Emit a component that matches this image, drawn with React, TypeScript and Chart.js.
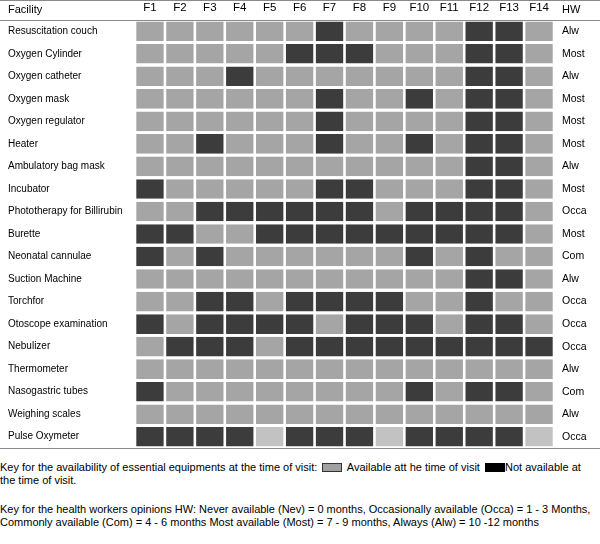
import React, { useEffect, useRef } from "react";
import { Chart, registerables } from "chart.js";

Chart.register(...registerables);

const facilities = [
  "Resuscitation couch",
  "Oxygen Cylinder",
  "Oxygen catheter",
  "Oxygen mask",
  "Oxygen regulator",
  "Heater",
  "Ambulatory bag mask",
  "Incubator",
  "Phototherapy for Billirubin",
  "Burette",
  "Neonatal cannulae",
  "Suction Machine",
  "Torchfor",
  "Otoscope examination",
  "Nebulizer",
  "Thermometer",
  "Nasogastric tubes",
  "Weighing scales",
  "Pulse Oxymeter",
];

const columns = ["F1", "F2", "F3", "F4", "F5", "F6", "F7", "F8", "F9", "F10", "F11", "F12", "F13", "F14"];

const hwOpinion = [
  "Alw", "Most", "Alw", "Most", "Most", "Most", "Alw", "Most", "Occa", "Most",
  "Com", "Alw", "Occa", "Occa", "Occa", "Alw", "Com", "Alw", "Occa",
];

// A = available, N = not available, U = no record
const availability = [
  "AAAAAANAAAANNA",
  "AAAAANNNAAANNA",
  "AAANAAAAAAANNA",
  "AAAAAANAANANNA",
  "AAAAAANAAAANNA",
  "AANAAANAANANNA",
  "AAAAAAAAAAANNA",
  "NAAAAANNAAANNA",
  "AANNNNNNANNNNA",
  "NNAANNNNNNNNNA",
  "NANAAAAAANANAA",
  "AAAAAAAAAAANNA",
  "AANNANNNNAANAA",
  "NANNNNANNNANNA",
  "ANNNANNNNNNNNN",
  "AAAAAAAAAAAAAA",
  "NAAAAAAAANANNA",
  "AAAAAAAAAAAAAA",
  "NNNNUNNNUNNNNU",
];

const statusColor: Record<string, string> = {
  A: "#a5a5a5",
  N: "#3c3c3c",
  U: "#c2c2c2",
};

const FONT = "'Liberation Sans', Arial, Helvetica, sans-serif";

export default function App() {
  const ref = useRef<HTMLCanvasElement | null>(null);

  useEffect(() => {
    if (!ref.current) return;
    const headerPlugin = {
      id: "headerPlugin",
      afterDraw(chart: any) {
        const { ctx, chartArea, width } = chart;
        ctx.save();
        ctx.strokeStyle = "#8a8a8a";
        ctx.lineWidth = 1;
        ctx.beginPath();
        ctx.moveTo(0, 0.5);
        ctx.lineTo(width, 0.5);
        ctx.moveTo(0, Math.round(chartArea.top) + 0.5);
        ctx.lineTo(width, Math.round(chartArea.top) + 0.5);
        ctx.moveTo(0, Math.round(chartArea.bottom) + 0.5);
        ctx.lineTo(width, Math.round(chartArea.bottom) + 0.5);
        ctx.stroke();
        ctx.fillStyle = "#000";
        ctx.font = `11px ${FONT}`;
        ctx.textBaseline = "alphabetic";
        ctx.textAlign = "left";
        ctx.fillText("Facility", 8, 12.5);
        ctx.fillText("HW", chartArea.right + 8, 12.5);
        ctx.restore();
      },
    };

    const datasets = columns.map((col, j) => ({
      label: col,
      data: facilities.map(() => 1),
      backgroundColor: availability.map((row) => statusColor[row[j]]),
      borderColor: "#ffffff",
      borderWidth: { left: 1.3, right: 1.3, top: 0, bottom: 0 },
      borderSkipped: false as const,
      categoryPercentage: 1,
      barPercentage: 0.87,
      inflateAmount: 0,
    }));

    const noPad = (axis: any, w: number) => {
      axis.width = w;
      axis.paddingTop = 0;
      axis.paddingBottom = 0;
    };

    const chart = new Chart(ref.current, {
      type: "bar",
      data: { labels: facilities, datasets },
      plugins: [headerPlugin],
      options: {
        indexAxis: "y",
        animation: false,
        responsive: false,
        devicePixelRatio: 1,
        layout: { padding: { left: 8, right: 0, top: 0, bottom: 4 } },
        plugins: { legend: { display: false }, tooltip: { enabled: false } },
        scales: {
          x: {
            type: "linear",
            position: "top",
            stacked: true,
            min: 0,
            max: columns.length,
            grid: { display: false, drawTicks: false },
            border: { display: false },
            afterBuildTicks: (axis: any) => {
              axis.ticks = columns.map((_, i) => ({ value: i + 0.5 }));
            },
            afterFit: (axis: any) => {
              axis.height = 20;
            },
            ticks: {
              autoSkip: false,
              maxRotation: 0,
              padding: 5,
              color: "#000",
              font: { family: FONT, size: 11.5 },
              callback: (_v: any, i: number) => columns[i],
            },
          },
          y: {
            type: "category",
            position: "left",
            stacked: true,
            offset: true,
            grid: { display: false, drawTicks: false },
            border: { display: false },
            afterFit: (axis: any) => noPad(axis, 127),
            ticks: {
              crossAlign: "far",
              autoSkip: false,
              color: "#000",
              font: { family: FONT, size: 10 },
            },
          },
          yHW: {
            type: "category",
            position: "right",
            labels: hwOpinion,
            offset: true,
            grid: { display: false, drawTicks: false },
            border: { display: false },
            afterFit: (axis: any) => noPad(axis, 46),
            ticks: {
              autoSkip: false,
              padding: 8,
              color: "#000",
              font: { family: FONT, size: 10.5 },
            },
          },
        },
      },
    } as any);
    return () => chart.destroy();
  }, []);

  const textStyle: React.CSSProperties = {
    margin: 0,
    fontFamily: FONT,
    fontSize: "11px",
    lineHeight: "13px",
    color: "#000",
  };

  return (
    <div
      style={{
        position: "absolute",
        left: 0,
        top: 0,
        width: 600,
        height: 544,
        background: "#fff",
        overflow: "hidden",
      }}
    >
      <canvas ref={ref} width={600} height={452} style={{ display: "block", width: 600, height: 452 }} />
      <div style={{ position: "absolute", left: 0, top: 461, width: 598 }}>
        <p style={textStyle}>
          Key for the availability of essential equipments at the time of visit:{" "}
          <span
            style={{
              display: "inline-block",
              width: 18,
              height: 7,
              background: "#a0a0a0",
              border: "1px solid #333",
              verticalAlign: "-1px",
              margin: "0 2px",
            }}
          />{" "}
          Available att he time of visit{" "}
          <span
            style={{
              display: "inline-block",
              width: 20,
              height: 9,
              background: "#000",
              verticalAlign: "-1px",
              marginLeft: 2,
            }}
          />
          Not available at the time of visit.
        </p>
        <p style={{ ...textStyle, marginTop: 16 }}>
          Key for the health workers opinions HW: Never available (Nev) = 0 months, Occasionally available (Occa) = 1 - 3
          Months, Commonly available (Com) = 4 - 6 months Most available (Most) = 7 - 9 months, Always (Alw) = 10 -12
          months
        </p>
      </div>
    </div>
  );
}
